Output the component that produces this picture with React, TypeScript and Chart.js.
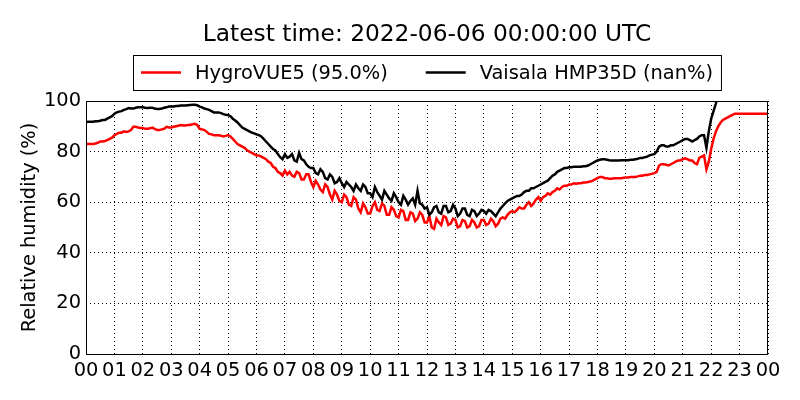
import { useEffect, useRef } from 'react';
import { Chart, registerables, Plugin } from 'chart.js';

Chart.register(...registerables);

const TITLE = 'Latest time: 2022-06-06 00:00:00 UTC';
const Y_TITLE = 'Relative humidity (%)';
const seriesLabels = ['HygroVUE5 (95.0%)', 'Vaisala HMP35D (nan%)'];
const seriesColors = ['#ff0000', '#000000'];

const hourLabels = [
  '00', '01', '02', '03', '04', '05', '06', '07', '08', '09', '10', '11',
  '12', '13', '14', '15', '16', '17', '18', '19', '20', '21', '22', '23', '00',
];
const yTicks = [0, 20, 40, 60, 80, 100];

// 5-minute samples, one row per hour
const hygroVue5 = [
  83, 83, 83, 83, 83.2, 83.5, 84, 84, 84.2, 84.5, 85, 85.5,
  86.5, 87, 87.5, 87.5, 88, 87.8, 88, 88.5, 89.8, 89.8, 89.5, 89.3,
  89.3, 89, 89, 89.2, 89.5, 89, 88.5, 88.5, 88.8, 89, 89.8, 89.5,
  89.5, 89.8, 90, 90.2, 90.5, 90.3, 90.3, 90.5, 90.5, 90.8, 91, 90.5,
  89, 88.8, 88.5, 87.8, 87, 86.8, 86.5, 86.5, 86.5, 86.3, 86, 86.2,
  86.5, 86, 85, 84, 83, 82.5, 82, 81.5, 80.5, 80, 79.5, 79,
  78.5, 78.5, 78, 77.5, 77, 76, 75.5, 74, 73.5, 72, 71.5, 70.5,
  72.5, 71, 72, 70.5, 70, 72, 71.5, 69, 69, 71, 71, 68,
  66, 68.5, 67, 65, 64, 67, 66, 63, 61, 64.5, 63, 60.5,
  60, 63, 62, 59, 58.5, 62, 61, 57.5, 56, 59.5, 58, 55.5,
  55.5, 58.5, 60, 57, 56.5, 59.5, 58.5, 55, 55, 58, 57, 54.5,
  54, 57, 56.5, 53, 53, 56, 55.5, 52.5, 53.5, 56, 55, 52,
  52, 54.5, 50, 49.5, 53.5, 52, 51, 54.5, 54, 51, 51.5, 53.5,
  53, 50, 50.5, 53, 52.5, 50, 50.5, 53, 52, 50, 50.5, 53,
  53, 51, 51.5, 53.5, 52.5, 50.5, 51.5, 53.5, 54, 53.5, 55, 56,
  56.5, 56, 57, 58, 57.5, 57.5, 59, 60, 58.5, 59.5, 61, 62,
  60.5, 62, 62.5, 63.5, 63, 64, 64.5, 65.5, 65, 66, 66.5, 66.5,
  67, 67, 67.5, 67.3, 67.5, 67.5, 67.8, 67.8, 68, 68.2, 68.5, 69,
  69.5, 70, 70, 69.5, 69.5, 69.3, 69.3, 69.5, 69.5, 69.5, 69.5, 69.7,
  69.8, 69.8, 70, 70, 70, 70.2, 70.5, 70.5, 70.8, 70.8, 71, 71.2,
  71.5, 72, 74.5, 75, 75, 74.8, 74.5, 75, 75.5, 76, 76.5, 76.5,
  77, 77.3, 77, 76.5, 76.5, 75.5, 75, 77.5, 78, 78.5, 73, 76,
  81, 85, 88, 90, 91.5, 92.5, 93, 93.5, 94, 94.5, 95, 95,
  95, 95, 95, 95, 95, 95, 95, 95, 95, 95, 95, 95,
  95,
];

const vaisalaHmp35d: (number | null)[] = [
  91.7, 91.8, 91.8, 91.8, 92, 92, 92.2, 92.5, 92.5, 93, 93.5, 94,
  95, 95.5, 95.8, 96, 96.5, 96.8, 97.2, 97, 97, 97.3, 97.5, 97.5,
  97.5, 97.3, 97.2, 97.3, 97.3, 97, 96.8, 96.8, 97, 97.3, 97.5, 97.8,
  97.8, 97.8, 98, 98, 98.2, 98.2, 98.2, 98.3, 98.4, 98.5, 98.5, 98.3,
  97.8, 97.5, 97, 96.8, 96.5, 96, 95.5, 95.5, 95.5, 95.2, 94.8, 94.6,
  94.5, 94, 93, 92.3, 91.5, 90.5, 89.5, 89, 88.5, 88, 87.5, 87.2,
  86.8, 86.5, 86, 85, 84, 83, 82, 81, 80.5, 79, 77.8, 77,
  79, 77.5, 78, 79, 76.5, 76, 79.5, 77, 76.5, 75, 74, 73.5,
  73.5, 71.5, 71, 73, 72, 69.5, 69, 71, 70, 67.5, 68, 69.5,
  67.5, 66, 68, 67, 66, 64.5, 67, 65.5, 64.5, 67, 66, 63.5,
  63.5, 62, 66, 64, 62.5, 61, 64.5, 63, 61.5, 60.5, 63.5, 62,
  60, 59, 62.5, 61, 59, 60.5, 61.5, 59, 64.5, 59.5, 59, 57.5,
  58, 55, 56, 58, 58.5, 56, 55.5, 58.5, 58.5, 56, 56.5, 59,
  57.5, 54.5, 55.5, 57.5, 57.5, 55, 54.5, 57, 56.5, 54.5, 55.5, 57,
  56.5, 55.5, 57, 56.5, 55.5, 54.5, 56, 57.5, 58.5, 59.5, 60.5, 61,
  61.5, 62, 62.5, 62.5, 63, 64, 64.5, 64.5, 65.5, 65.5, 66, 66.5,
  67, 67.5, 68, 68.5, 69.5, 70.5, 71, 72, 72.5, 73, 73.5, 73.5,
  73.8, 73.8, 74, 74, 74, 74, 74.2, 74.2, 74.5, 75, 75.5, 76,
  76.5, 76.8, 77, 77, 76.8, 76.6, 76.5, 76.5, 76.5, 76.5, 76.6, 76.6,
  76.6, 76.6, 76.8, 76.8, 77, 77.2, 77.5, 77.5, 77.8, 78, 78.5, 78.8,
  79, 80, 82, 82.5, 82.5, 82, 82, 82.5, 82.5, 83, 83.5, 84,
  84.5, 85, 85, 84.5, 84, 84.5, 85, 86, 86.5, 86.5, 81.5, 88,
  93, 96, 99, 103, 106, null, null, null, null, null, null, null,
  null, null, null, null, null, null, null, null, null, null, null, null,
  null,
];

const sampleHours = hygroVue5.map((_, i) => i / 12);

const FONT = 'DejaVu Sans';

// frame around the plot, title and boxed legend (matplotlib look)
const framePlugin: Plugin<'line'> = {
  id: 'frame',
  afterDraw(chart) {
    const { ctx, chartArea } = chart;
    const cx = (chartArea.left + chartArea.right) / 2;
    ctx.save();
    ctx.strokeStyle = '#000';
    ctx.lineWidth = 1;
    ctx.strokeRect(chartArea.left + 0.5, chartArea.top + 0.5,
      chartArea.right - chartArea.left - 1, chartArea.bottom - chartArea.top);

    ctx.fillStyle = '#000';
    ctx.textAlign = 'center';
    ctx.textBaseline = 'middle';
    ctx.font = `23.3px "${FONT}"`;
    ctx.fillText(TITLE, cx, 35);

    ctx.font = `19.4px "${FONT}"`;
    const widths = seriesLabels.map(l => ctx.measureText(l).width);
    const total = 8 + 40 + 14 + widths[0] + 38 + 40 + 14 + widths[1] + 8;
    const left = Math.round(cx - total / 2);
    const top = 55;
    const h = 35;
    ctx.fillStyle = '#fff';
    ctx.fillRect(left, top, total, h);
    ctx.strokeRect(left + 0.5, top + 0.5, total, h);
    let x = left + 8;
    const ly = top + h / 2;
    ctx.textAlign = 'left';
    seriesLabels.forEach((label, i) => {
      ctx.strokeStyle = seriesColors[i];
      ctx.lineWidth = 2.5;
      ctx.beginPath();
      ctx.moveTo(x, ly);
      ctx.lineTo(x + 40, ly);
      ctx.stroke();
      x += 54;
      ctx.fillStyle = '#000';
      ctx.fillText(label, x, ly + 1);
      x += widths[i] + 38;
    });
    ctx.restore();
  },
};

export default function App() {
  const chartRef = useRef<HTMLCanvasElement>(null);
  const chartInstance = useRef<Chart<'line'> | null>(null);

  useEffect(() => {
    document.body.style.margin = '0';
    if (!chartRef.current) return;
    if (chartInstance.current) chartInstance.current.destroy();

    const ctx = chartRef.current.getContext('2d');
    if (!ctx) return;

    Chart.defaults.font.family = FONT;
    Chart.defaults.color = '#000';

    const gridStyle = {
      color: '#000',
      lineWidth: 1,
      drawTicks: false,
    };
    const borderStyle = { display: false, dash: [1, 3] };

    chartInstance.current = new Chart(ctx, {
      type: 'line',
      data: {
        datasets: [
          {
            label: seriesLabels[0],
            data: sampleHours.map((h, i) => ({ x: h, y: hygroVue5[i] })),
            borderColor: seriesColors[0],
            backgroundColor: seriesColors[0],
            borderWidth: 2.5,
            pointRadius: 0,
            tension: 0,
            order: 1,
          },
          {
            label: seriesLabels[1],
            data: sampleHours.map((h, i) => ({ x: h, y: vaisalaHmp35d[i] })),
            borderColor: seriesColors[1],
            backgroundColor: seriesColors[1],
            borderWidth: 2.5,
            pointRadius: 0,
            tension: 0,
            spanGaps: false,
            order: 0,
          },
        ],
      },
      options: {
        animation: false,
        responsive: true,
        maintainAspectRatio: false,
        layout: { padding: { left: 0, top: 101, right: 32, bottom: 0 } },
        scales: {
          x: {
            type: 'linear',
            min: 0,
            max: 24,
            afterBuildTicks: scale => {
              scale.ticks = hourLabels.map((_, i) => ({ value: i }));
            },
            afterFit: scale => {
              scale.height = 46;
            },
            ticks: {
              autoSkip: false,
              maxRotation: 0,
              padding: 5,
              font: { size: 19.4 },
              callback: (_v, i) => hourLabels[i],
            },
            grid: gridStyle,
            border: borderStyle,
          },
          y: {
            min: 0,
            max: 100,
            afterBuildTicks: scale => {
              scale.ticks = yTicks.map(v => ({ value: v }));
            },
            afterFit: scale => {
              scale.width = 86;
            },
            ticks: {
              padding: 5,
              font: { size: 19.4 },
              callback: v => String(v),
            },
            grid: gridStyle,
            border: borderStyle,
            title: {
              display: true,
              text: Y_TITLE,
              font: { size: 19.4 },
              padding: { top: 18, bottom: 0 },
            },
          },
        },
        plugins: {
          legend: { display: false },
          title: { display: false },
          tooltip: { enabled: false },
        },
      },
      plugins: [framePlugin],
    });

    return () => {
      if (chartInstance.current) {
        chartInstance.current.destroy();
        chartInstance.current = null;
      }
    };
  }, []);

  return (
    <div style={{ width: 800, height: 400, background: '#fff' }}>
      <canvas ref={chartRef}></canvas>
    </div>
  );
}
